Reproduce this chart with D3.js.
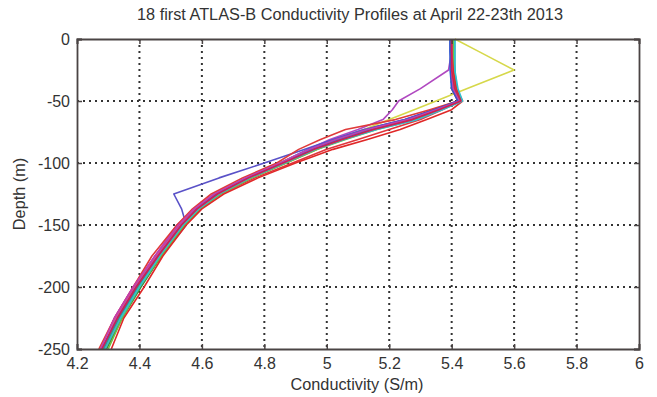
<!DOCTYPE html>
<html>
<head>
<meta charset="utf-8"/>
<title>ATLAS-B Conductivity Profiles</title>
<script src="https://cdn.jsdelivr.net/npm/d3@7"></script>
<style>
  body { margin: 0; background: #fff; }
  text { font-family: "Liberation Sans", Arial, sans-serif; fill: #333; }
</style>
</head>
<body>
<div id="chart"></div>
<script>
// depth levels (m), shared by all profiles
var depths = [0, -10, -25, -40, -50, -57, -65, -73, -81, -89, -100, -112, -125, -137, -150, -175, -200, -225, -250];

// conductivity (S/m) of the 18 profiles, one array each
var p01 = [5.395,5.395,5.40,5.40,5.42,5.34,5.25,5.12,5.02,4.94,4.85,4.74,4.64,4.58,4.53,4.45,4.385,4.33,4.28];
var p02 = [5.40,5.40,5.405,5.41,5.43,5.36,5.27,5.14,5.04,4.96,4.86,4.75,4.65,4.59,4.54,4.465,4.40,4.34,4.29];
var p03 = [5.40,5.40,5.40,5.41,5.43,5.37,5.30,5.20,5.10,5.00,4.89,4.77,4.66,4.59,4.53,4.46,4.395,4.335,4.28];
var p04 = [5.405,5.405,5.41,5.415,5.425,5.35,5.26,5.13,5.03,4.95,4.86,4.75,4.65,4.585,4.535,4.455,4.39,4.33,4.285];
var p05 = [5.40,5.40,5.39,5.30,5.23,5.21,5.18,5.10,5.01,4.94,4.85,4.74,4.64,4.575,4.52,4.45,4.38,4.32,4.275];
var p06 = [5.41,5.486,5.60,5.45,5.35,5.28,5.20,5.12,5.03,4.95,4.85,4.745,4.645,4.585,4.535,4.46,4.395,4.335,4.29];
var p07 = [5.40,5.40,5.40,5.405,5.42,5.35,5.25,5.12,5.02,4.93,4.80,4.655,4.51,4.535,4.55,4.47,4.40,4.34,4.29];
var p08 = [5.40,5.40,5.40,5.40,5.42,5.33,5.22,5.06,4.98,4.91,4.84,4.73,4.63,4.57,4.52,4.44,4.38,4.32,4.27];
var p09 = [5.40,5.40,5.405,5.41,5.425,5.36,5.28,5.15,5.05,4.97,4.87,4.76,4.655,4.59,4.54,4.47,4.40,4.34,4.29];
var p10 = [5.40,5.40,5.40,5.41,5.43,5.355,5.265,5.14,5.04,4.955,4.855,4.745,4.645,4.58,4.53,4.455,4.385,4.325,4.28];
var p11 = [5.41,5.41,5.41,5.415,5.43,5.36,5.27,5.15,5.05,4.96,4.86,4.75,4.65,4.59,4.54,4.465,4.395,4.335,4.285];
var p12 = [5.40,5.40,5.40,5.41,5.425,5.35,5.27,5.145,5.045,4.96,4.865,4.755,4.655,4.595,4.545,4.47,4.405,4.345,4.295];
var p13 = [5.395,5.395,5.395,5.40,5.42,5.345,5.26,5.135,5.035,4.95,4.855,4.745,4.645,4.585,4.535,4.46,4.39,4.33,4.28];
var p14 = [5.405,5.405,5.405,5.41,5.43,5.365,5.285,5.16,5.06,4.97,4.87,4.76,4.66,4.595,4.545,4.47,4.40,4.345,4.30];
var p15 = [5.40,5.40,5.405,5.415,5.435,5.40,5.32,5.235,5.13,5.02,4.90,4.78,4.67,4.60,4.55,4.475,4.415,4.35,4.31];
var p16 = [5.40,5.40,5.40,5.405,5.425,5.35,5.26,5.13,5.03,4.945,4.85,4.74,4.64,4.575,4.525,4.45,4.38,4.32,4.275];
var p17 = [5.41,5.41,5.41,5.42,5.435,5.37,5.29,5.16,5.055,4.965,4.865,4.755,4.655,4.59,4.54,4.465,4.40,4.34,4.29];
var p18 = [5.40,5.40,5.40,5.41,5.43,5.36,5.275,5.15,5.05,4.96,4.86,4.75,4.65,4.585,4.535,4.46,4.39,4.33,4.28];

var profiles = [p01,p02,p03,p04,p05,p06,p07,p08,p09,p10,p11,p12,p13,p14,p15,p16,p17,p18];
var colors = ["#3a44c4","#2f9a48","#e0343c","#2cb4c8","#b048c0","#d6d84a","#5a52c8","#e03a3a",
              "#f07a30","#e04c84","#2a9e90","#3a8a3a","#2c5ad0","#70c040","#e02828","#c040b0","#30c0d0","#d02050"];

var xTicks = [4.2, 4.4, 4.6, 4.8, 5, 5.2, 5.4, 5.6, 5.8, 6];
var yTicks = [0, -50, -100, -150, -200, -250];

var W = 657, H = 397;
var m = {left: 77, right: 18, top: 39, bottom: 48};

var svg = d3.select("#chart").append("svg")
    .attr("width", W)
    .attr("height", H);

var x = d3.scaleLinear().domain([4.2, 6]).range([m.left, W - m.right]);
var y = d3.scaleLinear().domain([-250, 0]).range([H - m.bottom, m.top]);

// dotted grid
svg.append("g").selectAll("line.gx")
    .data(xTicks.slice(1, -1)).enter().append("line")
    .attr("x1", d => x(d)).attr("x2", d => x(d))
    .attr("y1", y(0)).attr("y2", y(-250))
    .attr("stroke", "#333").attr("stroke-width", 2)
    .attr("stroke-dasharray", "2,4");
svg.append("g").selectAll("line.gy")
    .data(yTicks.slice(1, -1)).enter().append("line")
    .attr("y1", d => y(d)).attr("y2", d => y(d))
    .attr("x1", x(4.2)).attr("x2", x(6))
    .attr("stroke", "#333").attr("stroke-width", 2)
    .attr("stroke-dasharray", "2,4");

// profiles
var line = d3.line()
    .x(d => x(d[0]))
    .y(d => y(d[1]));

svg.append("g").selectAll("path")
    .data(profiles).enter().append("path")
    .attr("d", p => line(p.map((c, i) => [c, depths[i]])))
    .attr("fill", "none")
    .attr("stroke", (p, i) => colors[i])
    .attr("stroke-width", 1.6)
    .attr("stroke-linejoin", "round");

// axes, ticks inside like matlab
var fmt = d => String(d);
var xAxis = svg.append("g")
    .attr("transform", "translate(0," + y(-250) + ")")
    .call(d3.axisBottom(x).tickValues(xTicks).tickSize(-5).tickPadding(9).tickFormat(fmt));
var xTop = svg.append("g")
    .attr("transform", "translate(0," + y(0) + ")")
    .call(d3.axisTop(x).tickValues(xTicks).tickSize(-5).tickFormat(""));
var yAxis = svg.append("g")
    .attr("transform", "translate(" + x(4.2) + ",0)")
    .call(d3.axisLeft(y).tickValues(yTicks).tickSize(-5).tickPadding(7).tickFormat(fmt));
var yRight = svg.append("g")
    .attr("transform", "translate(" + x(6) + ",0)")
    .call(d3.axisRight(y).tickValues(yTicks).tickSize(-5).tickFormat(""));

[xAxis, xTop, yAxis, yRight].forEach(function(g) {
    g.selectAll("path").attr("stroke", "#4a4444").attr("stroke-width", 1.8);
    g.selectAll("line").attr("stroke", "#4a4444").attr("stroke-width", 1.5);
    g.selectAll("text").attr("font-size", 16).attr("fill", "#333")
        .attr("font-family", "'Liberation Sans', Arial, sans-serif");
});

// titles
svg.append("text")
    .attr("x", 350).attr("y", 20)
    .attr("text-anchor", "middle").attr("font-size", 16.3)
    .text("18 first ATLAS-B Conductivity Profiles at April 22-23th 2013");

svg.append("text")
    .attr("x", 357).attr("y", 390)
    .attr("text-anchor", "middle").attr("font-size", 16.3)
    .text("Conductivity (S/m)");

svg.append("text")
    .attr("transform", "translate(25," + y(-125) + ") rotate(-90)")
    .attr("text-anchor", "middle").attr("font-size", 16.3)
    .text("Depth (m)");
</script>
</body>
</html>
